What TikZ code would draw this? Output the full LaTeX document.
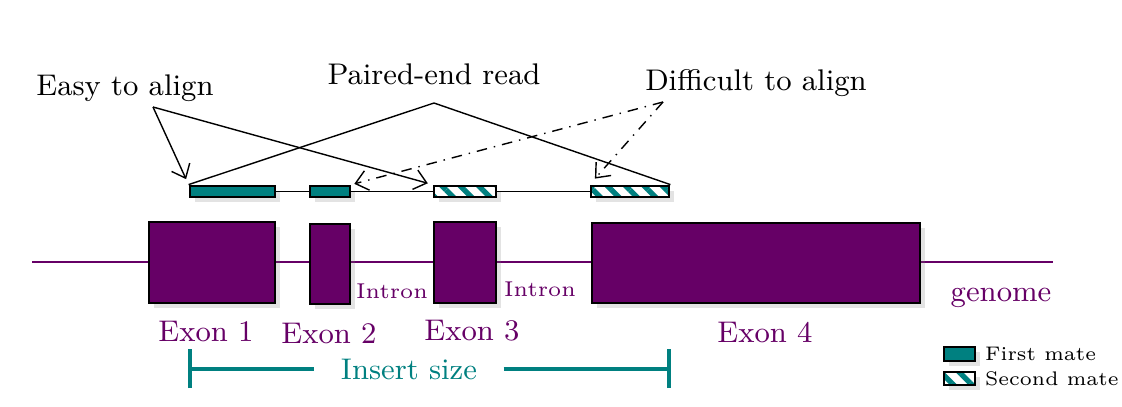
\documentclass[tikz,border=0pt]{standalone}
\usepackage{tikz}
\usetikzlibrary{arrows.meta,shadows,patterns.meta}
\definecolor{genomecol}{HTML}{660066}
\definecolor{readcol}{HTML}{008080}
\tikzset{
  softshadow/.style={drop shadow={opacity=0.22, shadow xshift=0.45mm, shadow yshift=-0.45mm}},
  exon/.style={draw, thick, fill=genomecol, inner sep=0pt, softshadow},
  firstmate/.style={draw, thick, fill=readcol, inner sep=0pt, softshadow},
  secondmate/.style={draw, thick, fill=white, inner sep=0pt, softshadow,
    postaction={pattern={Lines[angle=-45,distance=3.7pt,line width=1.5pt]}, pattern color=readcol},
    postaction={draw, thick}},
  bigtext/.style={font=\fontsize{8.5}{10}\selectfont},
  smalltext/.style={font=\fontsize{6.1}{7}\selectfont},
  pointer/.style={-{Straight Barb[length=1.2mm,width=2mm]}, thin},
}
\begin{document}
\begin{tikzpicture}[x=0.1mm, y=-0.1mm]
% Fix the frame to the size of the reference
\useasboundingbox (0,0) rectangle (1122,406);
% Genome line running under the exons
\coordinate (gleft) at (32,262);
\coordinate (gright) at (1053,262);
\draw[genomecol] (gleft) -- (gright);
% The four exons
\node[exon, minimum width=12.6mm, minimum height=8.1mm] (ex1) at (212,262.5) {};
\node[exon, minimum width=4.0mm, minimum height=8.0mm] (ex2) at (330,264) {};
\node[exon, minimum width=6.2mm, minimum height=8.1mm] (ex3) at (465,262.5) {};
\node[exon, minimum width=32.8mm, minimum height=8.0mm] (ex4) at (756,263) {};
% Introns and genome labels
\node[genomecol, smalltext] (in1) at (392,291) {Intron};
\node[genomecol, smalltext] (in2) at (540,289) {Intron};
\node[genomecol, bigtext] (gen) at (1001,298) {genome};
% Exon names below the boxes
\node[genomecol, bigtext] (lex1) at (206,331) {Exon 1};
\node[genomecol, bigtext] (lex2) at (329,333) {Exon 2};
\node[genomecol, bigtext] (lex3) at (472,331) {Exon 3};
\node[genomecol, bigtext] (lex4) at (765,332) {Exon 4};
% The read pieces: first mate split over exon 1 and 2, second mate over 3 and 4
\node[firstmate, minimum width=8.5mm, minimum height=1.1mm] (m1a) at (232.5,191.5) {};
\node[firstmate, minimum width=4.0mm, minimum height=1.1mm] (m1b) at (330,191.5) {};
\node[secondmate, minimum width=6.2mm, minimum height=1.1mm] (m2a) at (465,191.5) {};
\node[secondmate, minimum width=7.8mm, minimum height=1.1mm] (m2b) at (630,191.5) {};
% Thin line joining the pieces
\draw (m1a.east) -- (m1b.west);
\draw (m1b.east) -- (m2a.west);
\draw (m2a.east) -- (m2b.west);
% Paired-end read label and its lines
\node[bigtext] (paired) at (434,74) {Paired-end read};
\coordinate (pairfoot) at (434,103);
\draw (m1a.north west) -- (pairfoot) -- (m2b.north east);
% Easy to align
\node[bigtext] (easy) at (125,88) {Easy to align};
\coordinate (easyfoot) at (153,107);
\draw[pointer, shorten >=0.6mm] (easyfoot) -- (m1a.north west);
\draw[pointer, shorten >=0.5mm] (easyfoot) -- (m2a.north west);
% Difficult to align
\node[bigtext] (hard) at (756,83) {Difficult to align};
\coordinate (hardfoot) at (663,102);
\draw[pointer, dash dot, shorten >=0.3mm] (hardfoot) -- (m1b.north east);
\draw[pointer, dash dot, shorten >=0.8mm] (hardfoot) -- (m2b.north west);
% Insert size bar
\node[readcol, bigtext, inner xsep=2.6mm] (ins) at (409,369) {Insert size};
\coordinate (insl) at (190,369);
\coordinate (insr) at (669,369);
\draw[readcol, line width=1.2pt] (insl) -- (ins.west);
\draw[readcol, line width=1.2pt] (ins.east) -- (insr);
\draw[readcol, line width=1.2pt] ([yshift=-1.9mm]insl) -- ([yshift=2mm]insl);
\draw[readcol, line width=1.2pt] ([yshift=-1.9mm]insr) -- ([yshift=2mm]insr);
% Legend
\node[firstmate, minimum width=3.1mm, minimum height=1.4mm] (key1) at (959.5,354) {};
\node[secondmate, minimum width=3.1mm, minimum height=1.3mm] (key2) at (959.5,378.5) {};
\node[right, font=\fontsize{5.6}{6.5}\selectfont, inner xsep=0.8mm] (lkey1) at (key1.east) {First mate};
\node[right, font=\fontsize{5.6}{6.5}\selectfont, inner xsep=0.8mm] (lkey2) at (key2.east) {Second mate};
\end{tikzpicture}
\end{document}
